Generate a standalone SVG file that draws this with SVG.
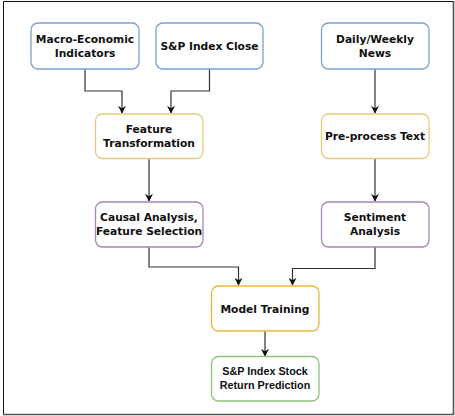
<svg xmlns="http://www.w3.org/2000/svg" width="455" height="416" viewBox="0 0 455 416">
<defs>
<style>
.n{fill:#ffffff;stroke-width:1.3}
.blue{stroke:#7e9fd0}
.yel{stroke:#e6cc7a}
.org{stroke:#efb53e}
.pur{stroke:#a586b8}
.grn{stroke:#93c27c}
.t{font-family:"DejaVu Sans",Verdana,sans-serif;font-weight:bold;font-size:10.7px;fill:#111111;text-anchor:middle}
.a{font-family:"Liberation Sans",Arial,sans-serif;font-weight:bold;font-size:10.8px;fill:#111111;text-anchor:middle}
.c{fill:none;stroke:#333333;stroke-width:1.2}
</style>
<marker id="ah" viewBox="0 0 10 10" refX="9" refY="5" markerWidth="8" markerHeight="8" orient="auto" markerUnits="userSpaceOnUse">
<path d="M0,0 L10,5 L0,10 L3,5 Z" fill="#111111"/>
</marker>
</defs>
<rect x="0" y="0" width="455" height="416" fill="#ffffff"/>
<path d="M3.5,414 L3.5,1.5 L453,1.5" fill="none" stroke="#111111" stroke-width="1"/>
<path d="M453.5,1 L453.5,414.5 L3,414.5" fill="none" stroke="#555555" stroke-width="1.6"/>
<g id="connectors">
<path class="c" d="M85,69 V91 H122 V113" marker-end="url(#ah)"/>
<path class="c" d="M209.5,69 V91 H171 V113" marker-end="url(#ah)"/>
<path class="c" d="M375,69 V113" marker-end="url(#ah)"/>
<path class="c" d="M149,158 V201" marker-end="url(#ah)"/>
<path class="c" d="M375,158 V201" marker-end="url(#ah)"/>
<path class="c" d="M149,247 V267 H238.5 V285" marker-end="url(#ah)"/>
<path class="c" d="M375,247 V268.5 H292.5 V285" marker-end="url(#ah)"/>
<path class="c" d="M265,331 V356" marker-end="url(#ah)"/>
</g>
<g id="macro">
<rect class="n blue" x="31" y="23" width="108" height="46" rx="7"/>
<text class="t" x="85" y="43">Macro-Economic</text>
<text class="t" x="85" y="56.5">Indicators</text>
</g>
<g id="sp-close">
<rect class="n blue" x="156" y="23" width="107" height="46" rx="7"/>
<text class="t" x="209.5" y="49.5">S&amp;P Index Close</text>
</g>
<g id="news">
<rect class="n blue" x="321.5" y="23" width="107.5" height="46" rx="7"/>
<text class="t" x="375" y="43">Daily/Weekly</text>
<text class="t" x="375" y="56.5">News</text>
</g>
<g id="feature-transformation">
<rect class="n yel" x="95.5" y="114" width="107.5" height="44.5" rx="7"/>
<text class="t" x="149" y="133">Feature</text>
<text class="t" x="149" y="146.5">Transformation</text>
</g>
<g id="preprocess">
<rect class="n yel" x="321.5" y="114" width="107.5" height="44.5" rx="7"/>
<text class="t" x="375" y="140">Pre-process Text</text>
</g>
<g id="causal">
<rect class="n pur" x="95.5" y="202" width="107.5" height="45" rx="7"/>
<text class="t" x="149" y="221">Causal Analysis,</text>
<text class="t" x="149" y="234.5">Feature Selection</text>
</g>
<g id="sentiment">
<rect class="n pur" x="321.5" y="202" width="107.5" height="45" rx="7"/>
<text class="t" x="375" y="221">Sentiment</text>
<text class="t" x="375" y="234.5">Analysis</text>
</g>
<g id="model-training">
<rect class="n org" x="211.5" y="286" width="107.5" height="45" rx="7"/>
<text class="t" x="265" y="312.5">Model Training</text>
</g>
<g id="prediction">
<rect class="n grn" x="211.5" y="356.5" width="107.5" height="44.5" rx="7"/>
<text class="a" x="265" y="375">S&amp;P Index Stock</text>
<text class="a" x="265" y="388.5">Return Prediction</text>
</g>
</svg>
